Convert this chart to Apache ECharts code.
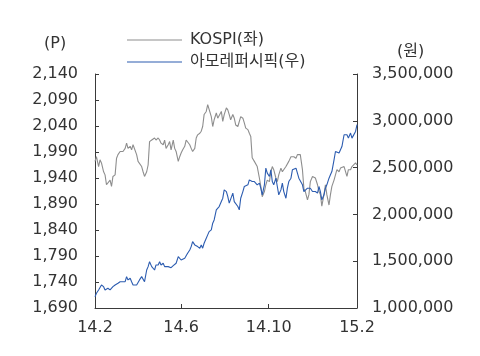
<!DOCTYPE html>
<html>
<head>
<meta charset="utf-8">
<script src="https://cdn.jsdelivr.net/npm/echarts@6/dist/echarts.min.js"></script>
<style>
html,body{margin:0;padding:0;background:#fff;}
#main{width:480px;height:356px;}
</style>
</head>
<body>
<div id="main"></div>
<script>
// ---- data ----
const startDate = '2014-02-01';
const endDate = '2015-02-01';
const tickDates = ['2014-02-01', '2014-06-01', '2014-10-01', '2015-02-01'];
const tickLabels = ['14.2', '14.6', '14.10', '15.2'];
const seriesNames = ['KOSPI(좌)', '아모레퍼시픽(우)'];

const kospi = [
  1972,1981,1962,1975,1969,1952,1946,1927,1924,1936,1924,1943,1946,1978,1985,1991,1994,1991,1997,2007,
  1997,2001,1994,2004,2004,1985,1972,1969,1962,1952,1943,1952,1965,2010,2013,2013,2017,2013,2017,
  2013,2007,2004,2013,1997,2004,2010,1994,2013,1997,1991,1972,1981,1988,1994,2001,2013,2010,2004,1997,
  1991,1997,2017,2023,2026,2030,2039,2062,2068,2081,2078,2058,2039,2052,2065,2055,2058,2068,2049,2062,
  2075,2071,2062,2052,2062,2055,2042,2039,2042,2058,2055,2046,2036,2033,2026,2020,1979,1972,1972,1962,
  1940,1924,1904,1914,1927,1936,1933,1952,1962,1956,1940,1933,1946,1959,1952,1949,1962,1959,1972,1981,
  1981,1981,1978,1985,1988,1985,1956,1920,1914,1898,1908,1933,1943,1946,1940,1927,1914,1908,1886,1908,
  1927,1908,1888,1908,1924,1936,1946,1956,1952,1959,1956,1962,1959,1943,1956,1956,1962,1965,1969,1965
];

const amore = [
  1121000,1157000,1193000,1211000,1246000,1228000,1193000,1174000,1211000,1193000,1211000,1228000,1246000,1264000,1264000,1281000,1264000,1281000,1281000,1335000,
  1300000,1318000,1281000,1246000,1239000,1246000,1264000,1300000,1335000,1318000,1281000,1406000,1442000,1495000,1442000,1460000,1406000,1460000,1460000,
  1495000,1460000,1478000,1442000,1460000,1442000,1442000,1431000,1452000,1442000,1478000,1549000,1532000,1513000,1532000,1532000,1532000,1585000,1620000,1656000,
  1709000,1674000,1656000,1656000,1639000,1674000,1639000,1692000,1746000,1781000,1816000,1834000,1906000,1941000,2048000,2067000,2084000,2137000,2173000,2262000,
  2244000,2191000,2120000,2137000,2227000,2137000,2120000,2084000,2048000,2173000,2244000,2298000,2280000,2316000,2369000,2387000,2351000,2351000,2334000,2316000,
  2334000,2280000,2209000,2316000,2494000,2441000,2405000,2476000,2351000,2316000,2387000,2298000,2209000,2262000,2334000,2244000,2173000,2280000,2351000,2387000,
  2476000,2494000,2494000,2441000,2387000,2369000,2316000,2244000,2262000,2280000,2262000,2280000,2244000,2262000,2244000,2227000,2298000,2244000,2155000,2209000,
  2280000,2316000,2387000,2423000,2458000,2583000,2672000,2672000,2655000,2672000,2725000,2851000,2832000,2851000,2815000,2869000,2815000,2832000,2886000,2958000
];

// ---- helpers: x axis counts days since startDate ----
const DAY = 86400000;
function dayOf(s) {
  const p = s.split('-').map(Number);
  const q = startDate.split('-').map(Number);
  return Math.round((Date.UTC(p[0], p[1] - 1, p[2]) - Date.UTC(q[0], q[1] - 1, q[2])) / DAY);
}
const totalDays = dayOf(endDate);
const n = kospi.length;
// the picture was read at evenly spaced positions across the year
const sampleDays = [];
for (let i = 0; i < n; i++) sampleDays.push(Math.round(i * totalDays / (n - 1)));
const tickDays = tickDates.map(dayOf);
const fmt = v => Number(v).toLocaleString('en-US');

const FONT = "'DejaVu Sans', 'Noto Sans CJK KR', sans-serif";
const TXT = '#333333';
const AXIS = '#3a3a3a';
const GRAY = '#8e8e8e';
const BLUE = '#2c5cb0';

const chart = echarts.init(document.getElementById('main'), null, {renderer: 'canvas'});
chart.setOption({
  animation: false,
  backgroundColor: '#ffffff',
  textStyle: {fontFamily: FONT},
  grid: {left: 95, right: 123, top: 74, bottom: 48, containLabel: false},
  legend: {
    orient: 'vertical',
    left: 127,
    top: 32,
    padding: 0,
    icon: 'rect',
    itemWidth: 55,
    itemHeight: 1,
    itemGap: 6,
    data: seriesNames,
    textStyle: {fontFamily: FONT, fontSize: 16, color: TXT, padding: [0, 0, 0, 3]}
  },
  graphic: [
    {type: 'text', left: 44, top: 36, style: {text: '(P)', font: "16px " + FONT, fill: TXT}},
    {type: 'text', left: 397, top: 44, style: {text: '(원)', font: "16px " + FONT, fill: TXT}}
  ],
  xAxis: {
    type: 'value',
    min: 0,
    max: totalDays,
    axisLine: {show: true, lineStyle: {color: AXIS, width: 1}},
    axisTick: {show: true, inside: true, length: 4, lineStyle: {color: AXIS}, customValues: tickDays},
    axisLabel: {
      customValues: tickDays,
      fontSize: 16, color: TXT, fontFamily: FONT, margin: 12,
      formatter: function (v) {
        const i = tickDays.indexOf(Math.round(+v));
        return i >= 0 ? tickLabels[i] : '';
      }
    },
    splitLine: {show: false}
  },
  yAxis: [
    {
      type: 'value', position: 'left',
      min: 1690, max: 2140, interval: 50,
      axisLine: {show: true, lineStyle: {color: AXIS, width: 1}},
      axisTick: {show: true, inside: true, length: 4, lineStyle: {color: AXIS}},
      axisLabel: {fontSize: 16, color: TXT, fontFamily: FONT, margin: 17, formatter: fmt},
      splitLine: {show: false}
    },
    {
      type: 'value', position: 'right',
      min: 1000000, max: 3500000, interval: 500000,
      axisLine: {show: true, lineStyle: {color: AXIS, width: 1}},
      axisTick: {show: true, inside: true, length: 4, lineStyle: {color: AXIS}},
      axisLabel: {fontSize: 16, color: TXT, fontFamily: FONT, margin: 15, formatter: fmt},
      splitLine: {show: false}
    }
  ],
  series: [
    {
      name: seriesNames[0], type: 'line', yAxisIndex: 0,
      symbol: 'none', smooth: false,
      lineStyle: {color: GRAY, width: 1.1},
      itemStyle: {color: GRAY},
      data: sampleDays.map((d, i) => [d, kospi[i]])
    },
    {
      name: seriesNames[1], type: 'line', yAxisIndex: 1,
      symbol: 'none', smooth: false,
      lineStyle: {color: BLUE, width: 1.1},
      itemStyle: {color: BLUE},
      data: sampleDays.map((d, i) => [d, amore[i]])
    }
  ]
});
</script>
</body>
</html>
